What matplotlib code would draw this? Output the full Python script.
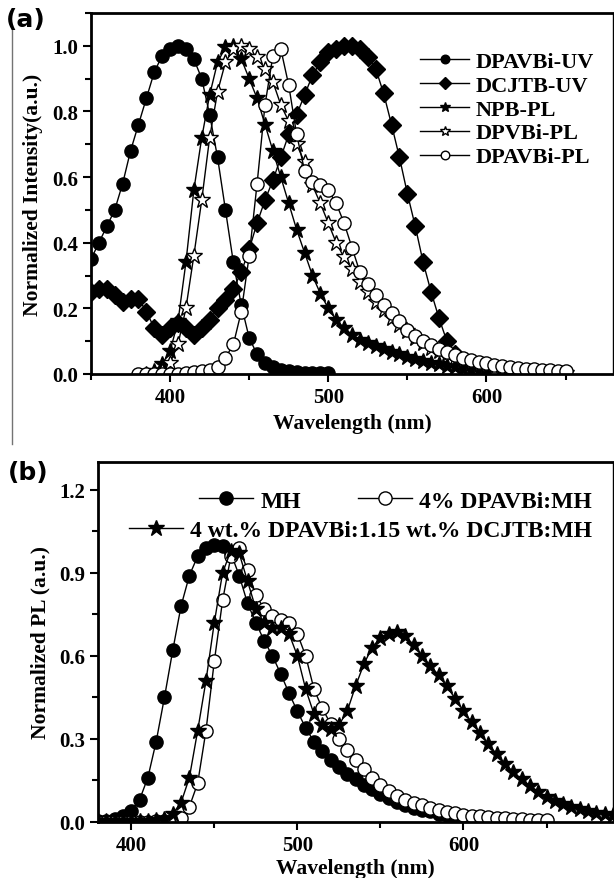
import numpy as np
import matplotlib
matplotlib.use('Agg')
import matplotlib.pyplot as plt
from matplotlib.lines import Line2D
from matplotlib.ticker import MultipleLocator

plt.rcParams['font.family'] = ['Liberation Serif', 'DejaVu Serif']
plt.rcParams['font.weight'] = 'bold'

# (a) absorption / PL spectra, 5 nm steps
wl_dpavbi_uv = np.arange(350, 501, 5)
dpavbi_uv = [0.35, 0.40, 0.45, 0.50, 0.58, 0.68, 0.76, 0.84, 0.92, 0.97,
             0.99, 1.00, 0.99, 0.96, 0.90, 0.79, 0.66, 0.50, 0.34, 0.21,
             0.11, 0.06, 0.035, 0.02, 0.012, 0.008, 0.005, 0.004, 0.003, 0.002,
             0.002]

wl_dcjtb_uv = np.arange(350, 581, 5)
dcjtb_uv = [0.25, 0.26, 0.26, 0.24, 0.22, 0.23, 0.23, 0.19, 0.14, 0.12,
            0.14, 0.155, 0.14, 0.12, 0.14, 0.165, 0.20, 0.225, 0.26, 0.31,
            0.38, 0.46, 0.53, 0.59, 0.66, 0.73, 0.79, 0.85, 0.91, 0.95,
            0.98, 0.99, 1.0, 1.0, 0.99, 0.965, 0.93, 0.855, 0.76, 0.66,
            0.55, 0.45, 0.34, 0.25, 0.17, 0.10, 0.06]

wl_npb_pl = np.arange(385, 601, 5)
npb_pl = [0.0, 0.01, 0.03, 0.07, 0.16, 0.34, 0.56, 0.72, 0.85, 0.95,
          0.995, 1.0, 0.96, 0.90, 0.84, 0.76, 0.68, 0.60, 0.52, 0.44,
          0.37, 0.30, 0.245, 0.20, 0.165, 0.14, 0.12, 0.105, 0.095, 0.085,
          0.075, 0.068, 0.06, 0.052, 0.045, 0.04, 0.034, 0.029, 0.024, 0.02,
          0.016, 0.012, 0.01, 0.008]

wl_dpvbi_pl = np.arange(395, 651, 5)
dpvbi_pl = [0.01, 0.035, 0.09, 0.20, 0.36, 0.53, 0.72, 0.86, 0.95, 0.99,
            1.0, 0.99, 0.965, 0.93, 0.89, 0.82, 0.77, 0.70, 0.645, 0.575,
            0.52, 0.46, 0.40, 0.355, 0.32, 0.28, 0.25, 0.22, 0.195, 0.17,
            0.15, 0.13, 0.11, 0.095, 0.08, 0.07, 0.06, 0.05, 0.043, 0.037,
            0.031, 0.026, 0.022, 0.018, 0.015, 0.012, 0.01, 0.008, 0.006, 0.004,
            0.003, 0.002]

wl_dpavbi_pl = np.arange(380, 651, 5)
dpavbi_pl = [0.0, 0.0, 0.0, 0.0, 0.0, 0.0, 0.003, 0.005, 0.008, 0.012,
             0.02, 0.05, 0.09, 0.19, 0.36, 0.58, 0.82, 0.97, 0.99, 0.88,
             0.73, 0.62, 0.585, 0.575, 0.56, 0.52, 0.46, 0.385, 0.31, 0.275,
             0.24, 0.21, 0.185, 0.16, 0.135, 0.115, 0.10, 0.087, 0.077, 0.067,
             0.058, 0.05, 0.043, 0.037, 0.032, 0.028, 0.024, 0.021, 0.018, 0.016,
             0.014, 0.012, 0.011, 0.01, 0.009]

# (b) PL of films
wl_mh = np.arange(380, 601, 5)
mh = [0.005, 0.005, 0.01, 0.02, 0.04, 0.08, 0.16, 0.29, 0.45, 0.62,
      0.78, 0.89, 0.96, 0.99, 1.0, 0.995, 0.97, 0.89, 0.79, 0.72,
      0.655, 0.60, 0.535, 0.465, 0.40, 0.34, 0.29, 0.255, 0.225, 0.20,
      0.175, 0.155, 0.135, 0.12, 0.10, 0.085, 0.072, 0.062, 0.052, 0.045,
      0.038, 0.03, 0.025, 0.02, 0.015]

wl_dpavbi_mh = np.arange(380, 651, 5)
dpavbi_mh = [0.0, 0.0, 0.0, 0.0, 0.0, 0.0, 0.0, 0.003, 0.005, 0.008,
             0.015, 0.055, 0.14, 0.33, 0.58, 0.80, 0.96, 0.99, 0.91, 0.82,
             0.77, 0.745, 0.73, 0.72, 0.68, 0.60, 0.48, 0.41, 0.355, 0.30,
             0.26, 0.225, 0.19, 0.16, 0.135, 0.113, 0.095, 0.08, 0.07, 0.06,
             0.05, 0.042, 0.036, 0.031, 0.027, 0.023, 0.02, 0.017, 0.015, 0.013,
             0.011, 0.01, 0.009, 0.008, 0.008]

wl_triple = np.arange(380, 691, 5)
triple = [0.005, 0.005, 0.005, 0.005, 0.005, 0.005, 0.005, 0.008, 0.012, 0.03,
          0.07, 0.16, 0.33, 0.51, 0.72, 0.90, 0.98, 0.97, 0.87, 0.77,
          0.72, 0.70, 0.70, 0.68, 0.60, 0.48, 0.39, 0.35, 0.335, 0.35,
          0.40, 0.49, 0.57, 0.63, 0.665, 0.68, 0.687, 0.67, 0.64, 0.60,
          0.565, 0.53, 0.49, 0.445, 0.40, 0.36, 0.32, 0.28, 0.245, 0.21,
          0.18, 0.155, 0.13, 0.11, 0.09, 0.077, 0.065, 0.055, 0.046, 0.038,
          0.032, 0.028, 0.025]

W, H = 614, 879
fig = plt.figure(figsize=(W/100, H/100), dpi=100)
ax_a = fig.add_axes([91/W, 1-375/H, (613-91)/W, (375-14)/H])
ax_b = fig.add_axes([98/W, 1-823/H, (613-98)/W, (823-463)/H])

kw = dict(color='black', lw=1.0, mec='black', mew=1.0)

h1, = ax_a.plot(wl_dcjtb_uv, dcjtb_uv, marker='D', ms=9, mfc='black', label='DCJTB-UV', **kw)
h0, = ax_a.plot(wl_dpavbi_uv, dpavbi_uv, marker='o', ms=9.5, mfc='black', label='DPAVBi-UV', **kw)
h2, = ax_a.plot(wl_npb_pl, npb_pl, marker='*', ms=12, mfc='black', label='NPB-PL', **kw)
h3, = ax_a.plot(wl_dpvbi_pl, dpvbi_pl, marker='*', ms=12, mfc='white', label='DPVBi-PL', **kw)
h4, = ax_a.plot(wl_dpavbi_pl, dpavbi_pl, marker='o', ms=9.5, mfc='white', label='DPAVBi-PL', **kw)

ax_a.set_xlim(350, 680)
ax_a.set_ylim(0, 1.1)
ax_a.xaxis.set_major_locator(MultipleLocator(100))
ax_a.xaxis.set_minor_locator(MultipleLocator(50))
ax_a.yaxis.set_major_locator(MultipleLocator(0.2))
ax_a.yaxis.set_minor_locator(MultipleLocator(0.1))
ax_a.yaxis.set_major_formatter(plt.FormatStrFormatter('%.1f'))
ax_a.set_xlabel('Wavelength (nm)', fontsize=15.5, fontweight='bold', labelpad=4)
ax_a.set_ylabel('Normalized Intensity(a.u.)', fontsize=15.5, fontweight='bold', labelpad=6)
ax_a.legend([h0, h1, h2, h3, h4], [h.get_label() for h in (h0, h1, h2, h3, h4)],
            loc='upper right', bbox_to_anchor=(0.985, 0.925), frameon=False,
            fontsize=16, handlelength=2.2, handletextpad=0.3, labelspacing=0.15,
            borderpad=0, markerscale=0.65)

m0, = ax_b.plot(wl_mh, mh, marker='o', ms=9.5, mfc='black', **kw)
m1, = ax_b.plot(wl_dpavbi_mh, dpavbi_mh, marker='o', ms=9.5, mfc='white', **kw)
m2, = ax_b.plot(wl_triple, triple, marker='*', ms=12, mfc='black', **kw)

ax_b.set_xlim(380, 690)
ax_b.set_ylim(0, 1.3)
ax_b.xaxis.set_major_locator(MultipleLocator(100))
ax_b.xaxis.set_minor_locator(MultipleLocator(50))
ax_b.yaxis.set_major_locator(MultipleLocator(0.3))
ax_b.yaxis.set_minor_locator(MultipleLocator(0.15))
ax_b.yaxis.set_major_formatter(plt.FormatStrFormatter('%.1f'))
ax_b.set_xlabel('Wavelength (nm)', fontsize=15.5, fontweight='bold', labelpad=2)
ax_b.set_ylabel('Normalized PL (a.u.)', fontsize=15.5, fontweight='bold', labelpad=6)
leg1 = ax_b.legend([m0, m1], ['MH', '4% DPAVBi:MH'], ncol=2,
                   loc='upper right', bbox_to_anchor=(0.982, 0.955), frameon=False,
                   fontsize=17, handlelength=2.3, handletextpad=0.3, columnspacing=2.4,
                   borderpad=0)
ax_b.add_artist(leg1)
ax_b.legend([m2], ['4 wt.% DPAVBi:1.15 wt.% DCJTB:MH'],
            loc='upper right', bbox_to_anchor=(0.982, 0.873), frameon=False,
            fontsize=17, handlelength=2.3, handletextpad=0.3, borderpad=0)

for ax in (ax_a, ax_b):
    for side in ('top', 'left', 'bottom'):
        ax.spines[side].set_linewidth(2.0)
    ax.spines['right'].set_linewidth(1.0)
    ax.tick_params(which='major', direction='out', length=6, width=1.5, labelsize=15)
    ax.tick_params(which='minor', direction='out', length=4, width=1.5)
    for lab in ax.get_xticklabels() + ax.get_yticklabels():
        lab.set_fontweight('bold')

fig.text(6/W, 1-20/H, '(a)', fontsize=18, fontweight='bold', family='DejaVu Sans', va='center')
fig.text(8/W, 1-473/H, '(b)', fontsize=18, fontweight='bold', family='DejaVu Sans', va='center')
fig.add_artist(Line2D([12/W, 12/W], [1-28/H, 1-445/H], color='0.45', lw=1.0))

fig.savefig('out.png', dpi=100)
